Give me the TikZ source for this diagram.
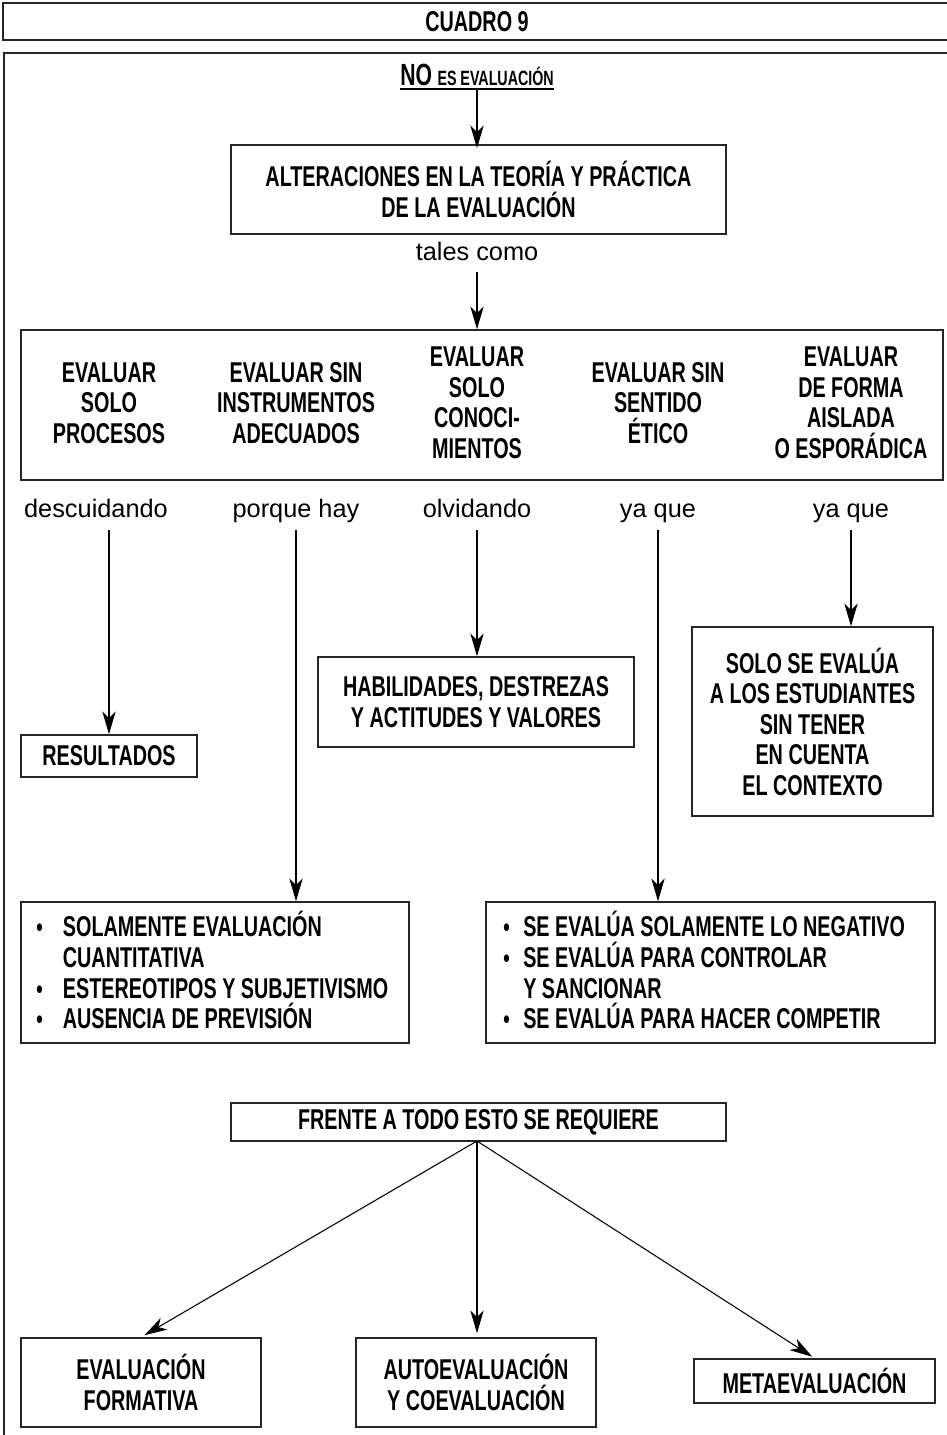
\documentclass[tikz,border=0pt]{standalone}
\usepackage{fontspec}
\setmainfont{Liberation Sans}[BoldFeatures={FakeStretch=0.69}]
\usetikzlibrary{arrows.meta}
\begin{document}
\begin{tikzpicture}[x=0.75pt,y=-0.75pt,
  box/.style={draw=black!85,line width=1.2pt,inner sep=0pt},
  tx/.style={font=\bfseries\fontsize{21.5}{22.9}\selectfont,align=center,inner sep=0pt},
  bl/.style={font=\bfseries\fontsize{21.5}{23.2}\selectfont,align=left,inner sep=0pt,anchor=west},
  lb/.style={font=\fontsize{19}{22}\selectfont,inner sep=0pt,anchor=base},
  arr/.style={-{Stealth[length=17pt,width=10pt,inset=5pt]},line width=0.8pt,black},
  frame/.style={draw=black!85,line width=1.2pt}]
\newcommand{\bu}[1]{\makebox[#1][l]{\fontsize{20}{20}\selectfont•}}
\useasboundingbox (0,0) rectangle (946,1435);
% title and frame
\node[box,tx,minimum width=711pt,minimum height=27.75pt] (title) at (477,21.5) {CUADRO 9};
\draw[frame] (4,53) rectangle (960,1460);
% top
\node[tx,anchor=base] (no) at (477,85) {{\fontsize{23}{24}\selectfont NO} {\fontsize{15.5}{16}\selectfont ES EVALUACIÓN}};
\draw[line width=1pt] ([yshift=-3pt]no.base west) -- ([yshift=-3pt]no.base east);
\node[box,tx,minimum width=371.25pt,minimum height=66.75pt] (alt) at (478.5,189.5) {ALTERACIONES EN LA TEORÍA Y PRÁCTICA\\DE LA EVALUACIÓN};
\draw[arr] ([yshift=-3pt]no.base) -- ([yshift=-3pt]no.base |- alt.north);
\node[lb] (tc) at (477,260) {tales como};
\node[box,minimum width=691.5pt,minimum height=112.5pt] (row) at (482,405) {};
\draw[arr,shorten <=9pt] (tc.base) -- (tc.base |- row.north);
% columns
\node[tx] (c1) at (109,403) {EVALUAR\\SOLO\\PROCESOS};
\node[tx] (c2) at (296,403) {EVALUAR SIN\\INSTRUMENTOS\\ADECUADOS};
\node[tx] (c3) at (477,403) {EVALUAR\\SOLO\\CONOCI-\\MIENTOS};
\node[tx] (c4) at (658,403) {EVALUAR SIN\\SENTIDO\\ÉTICO};
\node[tx] (c5) at (851,403) {EVALUAR\\DE FORMA\\AISLADA\\O ESPORÁDICA};
% labels
\node[lb] (l1) at (96,517) {descuidando};
\node[lb] (l2) at (296,517) {porque hay};
\node[lb] (l3) at (477,517) {olvidando};
\node[lb] (l4) at (658,517) {ya que};
\node[lb] (l5) at (851,517) {ya que};
% targets
\node[box,tx,minimum width=132pt,minimum height=31.5pt] (res) at (109,756) {RESULTADOS};
\node[box,tx,minimum width=237pt,minimum height=67.5pt] (hab) at (476,702) {HABILIDADES, DESTREZAS\\Y ACTITUDES Y VALORES};
\node[box,tx,minimum width=180.75pt,minimum height=141.75pt] (solo) at (812.5,721.5) {SOLO SE EVALÚA\\A LOS ESTUDIANTES\\SIN TENER\\EN CUENTA\\EL CONTEXTO};
\node[box,minimum width=291pt,minimum height=105.75pt] (lbul) at (215,972.5) {};
\node[bl] (lbt) at (36,970) {\bu{20pt}SOLAMENTE EVALUACIÓN\\\hspace*{20pt}CUANTITATIVA\\\bu{20pt}ESTEREOTIPOS Y SUBJETIVISMO\\\bu{20pt}AUSENCIA DE PREVISIÓN};
\node[box,minimum width=336.75pt,minimum height=105.75pt] (rbul) at (710.5,972.5) {};
\node[bl] (rbt) at (503,970) {\bu{15pt}SE EVALÚA SOLAMENTE LO NEGATIVO\\\bu{15pt}SE EVALÚA PARA CONTROLAR\\\hspace*{15pt}Y SANCIONAR\\\bu{15pt}SE EVALÚA PARA HACER COMPETIR};
\draw[arr,shorten <=10pt] (109,517) -- (109,517 |- res.north);
\draw[arr,shorten <=10pt] (l2.base) -- (l2.base |- lbul.north);
\draw[arr,shorten <=10pt] (l3.base) -- (l3.base |- hab.north);
\draw[arr,shorten <=10pt] (l4.base) -- (l4.base |- rbul.north);
\draw[arr,shorten <=10pt] (l5.base) -- (l5.base |- solo.north);
% bottom
\node[box,tx,minimum width=371.25pt,minimum height=28.5pt] (fr) at (478.5,1122) {FRENTE A TODO ESTO SE REQUIERE};
\node[box,tx,minimum width=180pt,minimum height=66.75pt] (ef) at (141,1382.5) {EVALUACIÓN\\FORMATIVA};
\node[box,tx,minimum width=180pt,minimum height=66.75pt] (ac) at (476,1382.5) {AUTOEVALUACIÓN\\Y COEVALUACIÓN};
\node[box,tx,minimum width=180.75pt,minimum height=33pt] (meta) at (814.5,1381) {METAEVALUACIÓN};
\coordinate (frs) at (477,1141);
\draw[arr,shorten >=3pt] (frs) -- (ef.north);
\draw[arr,shorten >=3pt] (frs) -- (frs |- ac.north);
\draw[arr,shorten >=2pt] (frs) -- (meta.north);
\end{tikzpicture}
\end{document}
